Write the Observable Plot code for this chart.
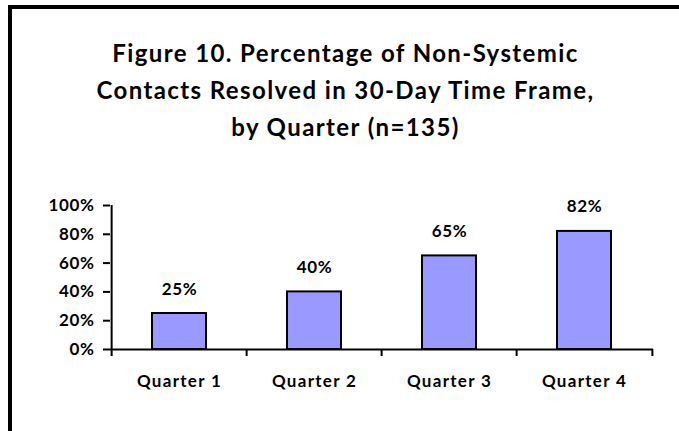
<!DOCTYPE html>
<html>
<head>
<meta charset="utf-8">
<script src="https://cdn.jsdelivr.net/npm/d3@7"></script>
<script src="https://cdn.jsdelivr.net/npm/@observablehq/plot@0.6"></script>
<style>
  html, body { margin: 0; padding: 0; background: #fff; }
  #wrap { position: relative; width: 679px; height: 431px; overflow: hidden; background: #fff; }
  #border { position: absolute; left: 8px; top: 5px; width: 700px; height: 460px;
            border-left: 4px solid #000; border-top: 4px solid #000; box-sizing: border-box; pointer-events: none; }
  #title { position: absolute; left: 12px; width: 667px; top: 34px; text-align: center;
           font-family: Lato, sans-serif; font-weight: bold; font-size: 24px; letter-spacing: 1.4px; line-height: 37px; color: #000; }
  #chart { position: absolute; left: 0; top: 180px; }
  #chart svg { font-family: Lato, sans-serif; font-weight: bold; }
  #chart g[aria-label="x-axis tick label"] text { letter-spacing: 1.3px; }
  #chart g[aria-label="y-axis tick label"] text { letter-spacing: 0.6px; }
  #chart g[aria-label="text"] text { letter-spacing: 0.6px; }
</style>
</head>
<body>
<div id="wrap">
  <div id="title">Figure 10. Percentage of Non-Systemic<br>Contacts Resolved in 30-Day Time Frame,<br>by Quarter (n=135)</div>
  <div id="chart"></div>
  <div id="border"></div>
</div>
<script>
const categories = ["Quarter 1", "Quarter 2", "Quarter 3", "Quarter 4"];
const values = [0.25, 0.40, 0.65, 0.82];
const valueLabels = ["25%", "40%", "65%", "82%"];
const yTicks = [0, 0.2, 0.4, 0.6, 0.8, 1.0];

const data = categories.map((c, i) => ({category: c, value: values[i], label: valueLabels[i]}));

const W = 679, H = 251, mL = 110, mR = 26, mT = 25, mB = 82;
const step = (W - mL - mR) / categories.length;
const fs = 17;

const plot = Plot.plot({
  width: W, height: H,
  marginLeft: mL, marginRight: mR, marginTop: mT, marginBottom: mB,
  style: {fontFamily: "Lato, sans-serif", fontWeight: "bold", fontSize: fs + "px", color: "#000", background: "#fff"},
  x: {domain: categories, paddingInner: 0.6, paddingOuter: 0.3, label: null},
  y: {domain: [0, 1], label: null},
  marks: [
    Plot.barY(data, {x: "category", y: "value", fill: "#9999FF", stroke: "#000", strokeWidth: 2}),
    Plot.text(data, {x: "category", y: "value", text: "label", dy: -19 - 0.32 * fs, fontSize: fs, fontWeight: "bold", fill: "#000"}),
    Plot.ruleY([0], {stroke: "#000", strokeWidth: 2}),
    Plot.ruleX([categories[0]], {x: d => d, y1: 0, y2: 1, dx: -step / 2, stroke: "#000", strokeWidth: 2}),
    Plot.axisY({ticks: yTicks, tickFormat: d3.format(".0%"), tickSize: 7, tickPadding: 9, strokeWidth: 2, fontSize: fs, fontWeight: "bold", fill: "#000"}),
    Plot.axisX({ticks: categories, text: null, tickSize: 7, dx: -step / 2, strokeWidth: 2, label: null}),
    Plot.axisX({ticks: [categories[categories.length - 1]], text: null, tickSize: 7, dx: step / 2, strokeWidth: 2, label: null}),
    Plot.axisX({ticks: categories, tickSize: 0, tickPadding: 25, fontSize: fs, fontWeight: "bold", fill: "#000", label: null})
  ]
});
document.getElementById("chart").appendChild(plot);
</script>
</body>
</html>
